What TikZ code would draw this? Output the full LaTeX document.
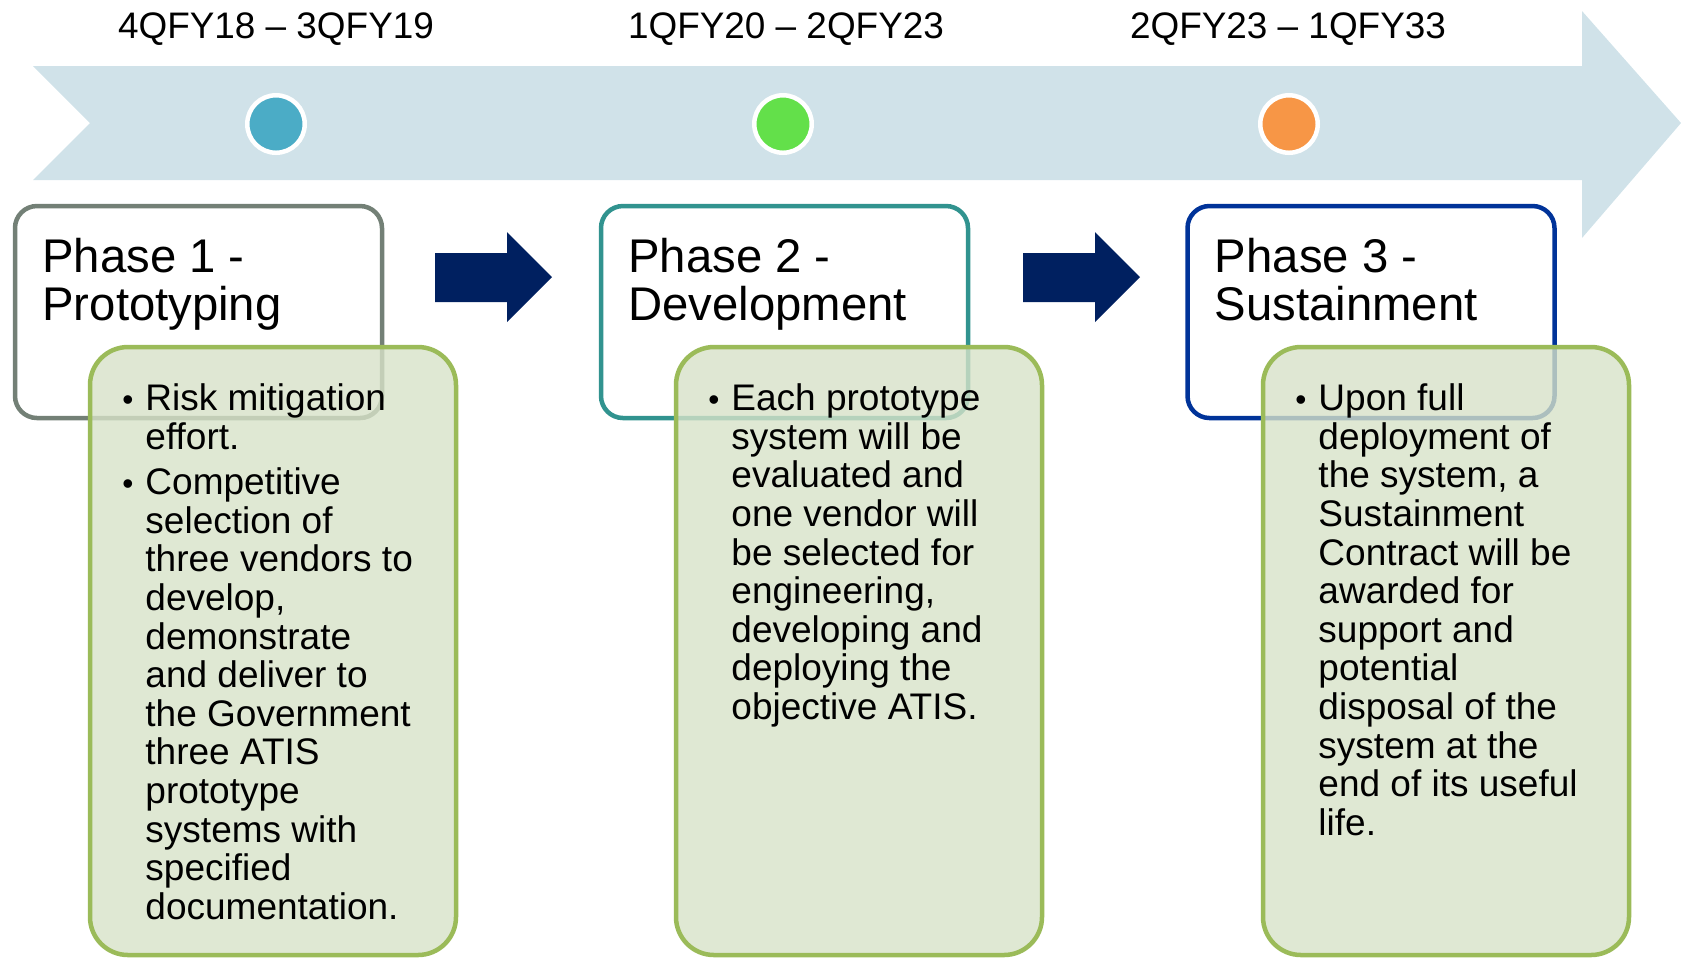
\documentclass[tikz,border=0pt]{standalone}
\usepackage{fontspec}
\setmainfont{Liberation Sans}
\usepackage{tikz}
\usetikzlibrary{calc}
\usetikzlibrary{positioning}
\definecolor{bandblue}{RGB}{208,226,233}
\definecolor{navy}{RGB}{0,32,96}
\definecolor{dotblue}{RGB}{75,172,198}
\definecolor{dotgreen}{RGB}{99,224,74}
\definecolor{dotorange}{RGB}{247,150,70}
\definecolor{phasegray}{RGB}{115,128,118}
\definecolor{phaseteal}{RGB}{49,147,143}
\definecolor{phaseblue}{RGB}{0,51,153}
\definecolor{notefill}{RGB}{215,226,200}
\definecolor{noteline}{RGB}{155,187,89}
\tikzstyle{phase} = [draw, line width=1.28pt, fill=white, rectangle,
    rounded corners=2.2mm, minimum width=36.7mm, minimum height=21.2mm]
\tikzstyle{note} = [draw=noteline, line width=1.28pt, fill=notefill, fill opacity=0.8,
    rectangle, rounded corners=3.8mm, minimum width=36.6mm, minimum height=60.8mm]
\tikzstyle{milestone} = [circle, draw=white, line width=1.28pt, minimum size=5.75mm,
    inner sep=0pt, outer sep=0pt]
\tikzstyle{date} = [anchor=base, inner sep=0pt, font=\fontsize{10.5}{11}\selectfont]
\tikzstyle{textline} = [anchor=base west, inner sep=0pt, font=\fontsize{10.5}{11}\selectfont]
\tikzstyle{bulletmark} = [anchor=base west, inner sep=0pt, font=\fontsize{9}{11}\selectfont]
\newcommand{\phasetitle}[1]{\parbox[t]{40mm}{\fontsize{13.45}{13.66}\selectfont\raggedright #1}}
\newcommand{\notetext}[1]{\parbox[t]{40mm}{\fontsize{10.53}{10.98}\selectfont\raggedright #1}}

\begin{document}
\begin{tikzpicture}[x=0.1mm, y=-0.1mm]
    \useasboundingbox (0,0) rectangle (1681,959);
    % We start by drawing the timeline band
    \fill[bandblue] (33,66) -- (1582,66) -- (1582,11) -- (1681,123) -- (1582,238)
        -- (1582,180) -- (33,180) -- (90,123) -- cycle;

    % Milestones and their dates
    \node [milestone, fill=dotblue] (m1) at (276,124) {};
    \node [milestone, fill=dotgreen] (m2) at (783,124) {};
    \node [milestone, fill=dotorange] (m3) at (1289,124) {};
    \node [date] (d1) at (276,38) {4QFY18 -- 3QFY19};
    \node [date] (d2) at (786,38) {1QFY20 -- 2QFY23};
    \node [date] (d3) at (1288,38) {2QFY23 -- 1QFY33};

    % The phase blocks
    \node [phase, draw=phasegray] (p1) at (198.5,312) {};
    \node [phase, draw=phaseteal] (p2) at (784.5,312) {};
    \node [phase, draw=phaseblue] (p3) at (1371,312) {};
    \node [textline] (t1) at ($(p1.north west)+(29,69)$) {\phasetitle{Phase 1 -\\Prototyping}};
    \node [textline] (t2) at ($(p2.north west)+(29,69)$) {\phasetitle{Phase 2 -\\Development}};
    \node [textline] (t3) at ($(p3.north west)+(29,69)$) {\phasetitle{Phase 3 -\\Sustainment}};

    % Block arrows between the phases
    \foreach \s in {0,588} {
        \fill [navy, shift={(\s,0)}] (435,253) -- (507,253) -- (507,232) -- (552,277)
            -- (507,322) -- (507,302) -- (435,302) -- cycle;
    }

    % Detail boxes on top
    \node [note] (g1) at (273,651) {};
    \node [note] (g2) at (859,651) {};
    \node [note] (g3) at (1446,651) {};

    \node [bulletmark] (b11) at ($(g1.north west)+(34,66)$) {•};
    \node [textline] (n11) at ($(g1.north west)+(57,66)$) {\notetext{Risk mitigation\\effort.}};
    \node [bulletmark] (b12) at ($(g1.north west)+(34,150)$) {•};
    \node [textline] (n12) at ($(g1.north west)+(57,150)$) {\notetext{Competitive\\selection of\\three vendors to\\develop,\\demonstrate\\and deliver to\\the Government\\three ATIS\\prototype\\systems with\\specified\\documentation.}};

    \node [bulletmark] (b21) at ($(g2.north west)+(34,66)$) {•};
    \node [textline] (n21) at ($(g2.north west)+(57,66)$) {\notetext{Each prototype\\system will be\\evaluated and\\one vendor will\\be selected for\\engineering,\\developing and\\deploying the\\objective ATIS.}};

    \node [bulletmark] (b31) at ($(g3.north west)+(34,66)$) {•};
    \node [textline] (n31) at ($(g3.north west)+(57,66)$) {\notetext{Upon full\\deployment of\\the system, a\\Sustainment\\Contract will be\\awarded for\\support and\\potential\\disposal of the\\system at the\\end of its useful\\life.}};
\end{tikzpicture}
\end{document}
